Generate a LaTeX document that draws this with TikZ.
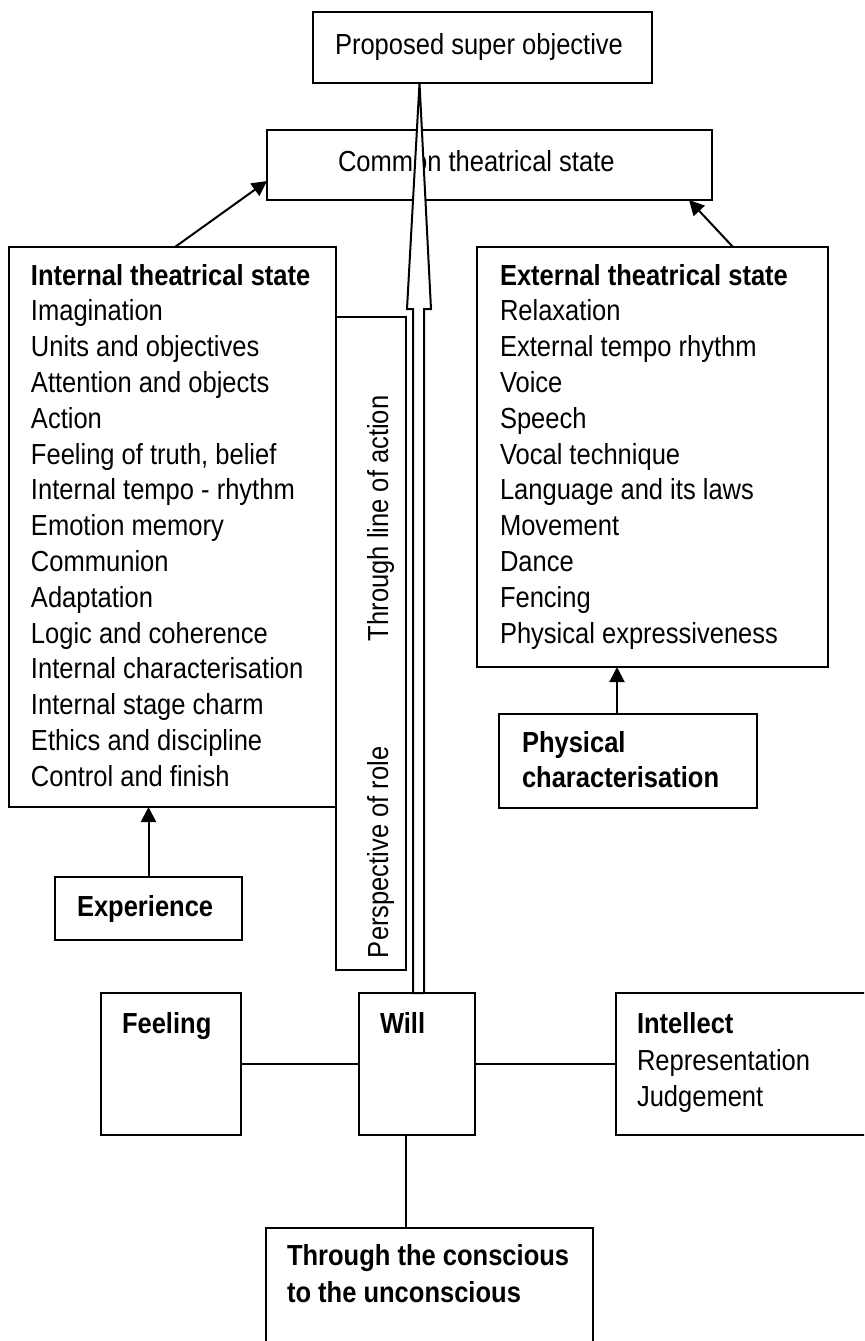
\documentclass[tikz,border=0pt]{standalone}
\usepackage{fontspec}
\setmainfont{Liberation Sans}[FakeStretch=0.88]
\usetikzlibrary{arrows.meta,fit,calc}
\begin{document}
\begin{tikzpicture}[x=0.5pt,y=-0.5pt,
  box/.style={draw, line width=1pt, inner sep=0pt, outer sep=0pt},
  txt/.style={inner sep=0pt, outer sep=0pt, anchor=base west, font=\fontsize{14.5}{18}\selectfont},
  btxt/.style={txt, font=\fontsize{14.5}{18}\selectfont\bfseries},
  arr/.style={line width=1pt, -{Triangle[length=7.5pt,width=7.5pt]}},
  link/.style={line width=1pt},
  bigarrow/.style={draw, fill=white, line width=1pt, line join=miter}]
\useasboundingbox (0,0) rectangle (864,1341);
\clip (0,0) rectangle (864,1341);
\fill[white] (0,0) rectangle (864,1341);

% common state
\node[box, fit={(267,130)(712,200)}] (common) {};
\node[txt] (commontxt) at (338,171) {Common theatrical state};

% internal state
\node[box, fit={(9,247)(336,807)}] (internal) {};
\node[btxt] (inthead) at (31,285) {Internal theatrical state};
\foreach \t [count=\i] in {Imagination,Units and objectives,Attention and objects,Action,{Feeling of truth, belief},Internal tempo - rhythm,Emotion memory,Communion,Adaptation,Logic and coherence,Internal characterisation,Internal stage charm,Ethics and discipline,Control and finish}
  \node[txt] (int\i) at (31,{285+35.8*\i}) {\t};

% perspective column
\node[box, fit={(336,317)(406,970)}] (persp) {};
\node[txt, rotate=90] (tloa) at (388,641) {Through line of action};
\node[txt, rotate=90] (por) at (388,958) {Perspective of role};

% external state
\node[box, fit={(477,247)(828,667)}] (external) {};
\node[btxt] (exthead) at (500,285) {External theatrical state};
\foreach \t [count=\i] in {Relaxation,External tempo rhythm,Voice,Speech,Vocal technique,Language and its laws,Movement,Dance,Fencing,Physical expressiveness}
  \node[txt] (ext\i) at (500,{285+35.8*\i}) {\t};

% experience
\node[box, fit={(55,877)(242,940)}] (experience) {};
\node[btxt] (exptxt) at (77,916) {Experience};

% physical characterisation
\node[box, fit={(499,714)(757,808)}] (physical) {};
\node[btxt] (phys1) at (522,752) {Physical};
\node[btxt] (phys2) at (522,787) {characterisation};

% feeling / will / intellect
\node[box, fit={(101,993)(241,1135)}] (feeling) {};
\node[btxt] (feeltxt) at (122,1033) {Feeling};
\node[box, fit={(359,993)(475,1135)}] (will) {};
\node[btxt] (willtxt) at (380,1033) {Will};
\node[box, fit={(616,993)(880,1135)}] (intellect) {};
\node[btxt] (inttxt) at (637,1033) {Intellect};
\node[txt] (reptxt) at (637,1070) {Representation};
\node[txt] (judtxt) at (637,1106) {Judgement};

% conscious
\node[box, fit={(266,1228)(593,1400)}] (conscious) {};
\node[btxt] (con1) at (287,1265) {Through the conscious};
\node[btxt] (con2) at (287,1302) {to the unconscious};

% connectors
\draw[link] (feeling.east) -- (will.west);
\draw[link] (will.east) -- (intellect.west);
\draw[link] ([xshift=-5.5pt]will.south) -- ([xshift=-5.5pt]will.south |- conscious.north);
\draw[arr] (experience.north) -- (experience.north |- internal.south);
\draw[arr] ([xshift=-5.5pt]physical.north) -- ([xshift=-5.5pt]physical.north |- external.south);
\draw[arr] ([xshift=83pt]internal.north west) -- ([yshift=9.5pt]common.south west);
\draw[arr] ([xshift=-47.5pt]external.north east) -- ([xshift=-11.5pt]common.south east);

% super objective box and big hollow arrow
\node[box, fill=white, fit={(313,12)(652,83)}] (super) {};
\coordinate (atip) at ([xshift=-31.5pt]super.south);
\draw[bigarrow] (atip) -- ++(11.5,226) -- ++(-7,0) -- ($(atip)+(4.5,910)$) -- ++(-11,0) -- ($(atip)+(-6.5,226)$) -- ++(-6,0) -- cycle;
\node[txt] (supertxt) at (335,54) {Proposed super objective};
\end{tikzpicture}
\end{document}
